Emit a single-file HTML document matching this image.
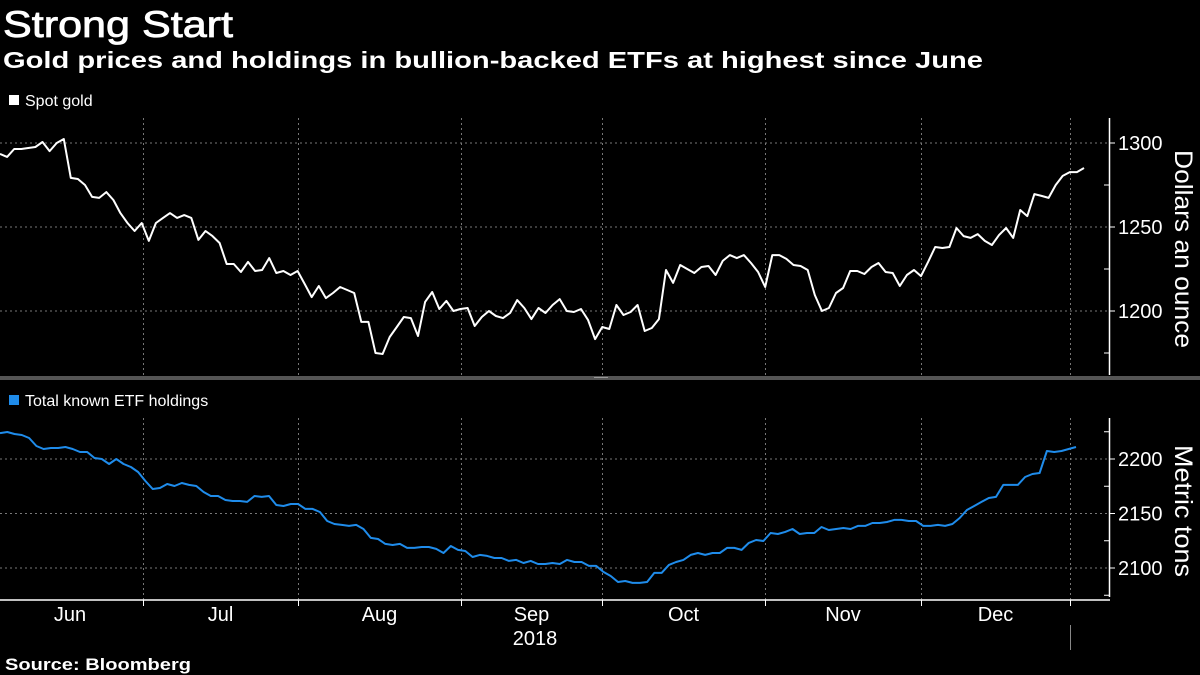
<!DOCTYPE html>
<html>
<head>
<meta charset="utf-8">
<style>
html,body{margin:0;padding:0;background:#000;}
svg{display:block;font-family:"Liberation Sans",sans-serif;}
</style>
</head>
<body>
<svg id="chart" width="1200" height="675" viewBox="0 0 1200 675">
  <rect x="0" y="0" width="1200" height="675" fill="#000"/>
  <text x="3" y="37" fill="#fff" stroke="#fff" stroke-width="0.8" font-size="37" textLength="230" lengthAdjust="spacingAndGlyphs">Strong Start</text>
  <text x="3" y="68" fill="#fff" font-size="23" font-weight="bold" textLength="980" lengthAdjust="spacingAndGlyphs">Gold prices and holdings in bullion-backed ETFs at highest since June</text>

  <rect x="9" y="95" width="10" height="10" fill="#fff"/>
  <text x="25" y="106" fill="#fff" font-size="16">Spot gold</text>
  <rect x="9" y="395" width="10" height="10" fill="#1f8ceb"/>
  <text x="25" y="406" fill="#fff" font-size="16">Total known ETF holdings</text>

  <rect x="0" y="376" width="1200" height="4" fill="#555"/>
  <rect x="594" y="377" width="14" height="1" fill="#999"/>

  <g id="grid"></g>
  <g id="axes"></g>
  <g id="series"></g>

  <text x="535" y="645" fill="#fff" font-size="20" text-anchor="middle">2018</text>
  <line x1="1070.5" y1="625" x2="1070.5" y2="650" stroke="#888" stroke-width="1"/>
  <text x="5" y="670" fill="#fff" font-size="17" font-weight="bold" textLength="186" lengthAdjust="spacingAndGlyphs">Source: Bloomberg</text>
  <text transform="translate(1175,249) rotate(90)" fill="#fff" font-size="25" text-anchor="middle" textLength="198" lengthAdjust="spacingAndGlyphs">Dollars an ounce</text>
  <text transform="translate(1175,511) rotate(90)" fill="#fff" font-size="25" text-anchor="middle" textLength="132" lengthAdjust="spacingAndGlyphs">Metric tons</text>
</svg>
<script>
const goldPrices = [1293.5,1291.7,1296.4,1296.4,1297,1297.6,1300.6,1295.2,1300,1302.4,1279.2,1278.6,1275,1267.9,1267.3,1270.8,1266.1,1258.3,1252.4,1247.6,1252.4,1241.7,1252.4,1255.4,1258.3,1255.4,1257.1,1255.4,1242.3,1247.6,1244.6,1240.5,1228,1228,1223.2,1229.2,1223.8,1224.4,1231.5,1222.6,1223.8,1221.4,1223.8,1216.1,1208.3,1214.9,1207.7,1210.7,1214.3,1212.5,1210.7,1193.5,1193.5,1175,1174.4,1184.5,1190.5,1196.4,1195.8,1185.1,1205.4,1211.3,1201.2,1206,1200,1201.2,1201.8,1191.1,1196.4,1200,1197,1195.8,1198.8,1206.5,1201.8,1195.2,1201.8,1198.8,1203.6,1207.1,1200,1199.4,1201.2,1194.6,1183.3,1190.5,1189.3,1203.6,1197.6,1199.4,1203.6,1188.1,1189.9,1195.2,1224.4,1216.7,1227.4,1225,1222.6,1226.2,1226.8,1221.4,1229.8,1233.3,1231.5,1233.3,1228.6,1223.2,1214.3,1233.3,1233.3,1231,1227.4,1226.8,1224.4,1209.5,1200,1201.8,1210.7,1213.7,1223.8,1223.8,1222,1226.2,1228.6,1223.2,1222.6,1214.9,1221.4,1224.4,1220.8,1229.2,1238.1,1237.5,1238.1,1249.4,1244.6,1243.5,1245.8,1241.7,1239.3,1245.2,1249.4,1243.5,1260.1,1256.5,1269.6,1268.5,1267.3,1275,1280.4,1282.7,1282.7,1285.1];
const etfHoldings = [2223.8,2224.8,2222.9,2222,2219.3,2211.9,2209.2,2210.1,2210.1,2211,2209.2,2206.4,2206.4,2200.9,2200,2195.4,2200,2195.4,2192.7,2188.1,2179.8,2172.5,2173.4,2177.1,2175.2,2178,2176.2,2175.2,2169.7,2166.1,2166.1,2162.4,2161.5,2161.5,2160.6,2166.1,2165.2,2166.1,2157.8,2156.9,2158.7,2158.7,2154.2,2154.2,2151.4,2143.1,2140.4,2139.5,2138.6,2139.5,2135.8,2127.6,2126.6,2122.1,2121.1,2122.1,2118.4,2118.4,2119.3,2119.3,2117.5,2113.8,2120.2,2116.6,2115.6,2110.1,2112,2111.1,2109.2,2109.2,2106.5,2107.4,2104.6,2106.5,2103.7,2103.7,2104.6,2103.7,2107.4,2105.5,2105.5,2101.9,2101.9,2096.4,2092.7,2087.2,2088.1,2086.3,2086.3,2087.2,2095.5,2095.5,2102.8,2105.5,2107.4,2112,2113.8,2112,2113.8,2113.8,2118.4,2118.4,2116.6,2123,2125.7,2124.8,2132.1,2131.2,2133.1,2135.8,2131.2,2132.1,2132.1,2137.6,2134.9,2135.8,2136.7,2135.8,2138.6,2138.6,2141.3,2141.3,2142.2,2144.1,2144.1,2143.1,2143.1,2138.6,2138.6,2139.5,2138.6,2140.4,2145.9,2153.2,2156.9,2160.6,2164.2,2165.2,2176.2,2176.2,2176.2,2183.5,2186.2,2187.2,2207.3,2206.4,2207.3,2209.2,2211];
const monthLabels = ["Jun","Jul","Aug","Sep","Oct","Nov","Dec"];
const goldTicks = [1200,1250,1300];
const goldMinorTicks = [1175,1225,1275];
const etfTicks = [2100,2150,2200];
const etfMinorTicks = [2075,2125,2175,2225];

const NS = "http://www.w3.org/2000/svg";
const AXIS_X = 1109;
const boundaries = [0,143,298,461,602,765,921,1070];
function goldY(v){ return 143 + (1300 - v) * 84 / 50; }
function etfY(v){ return 459 + (2200 - v) * 54.5 / 50; }
function goldX(i){ return i * 1084 / (goldPrices.length - 1); }
function etfX(i){ return i * 1076 / (etfHoldings.length - 1); }
function mk(tag, attrs, parent){
  const e = document.createElementNS(NS, tag);
  for (const k in attrs) e.setAttribute(k, attrs[k]);
  parent.appendChild(e);
  return e;
}
const grid = document.getElementById('grid');
const axes = document.getElementById('axes');
const series = document.getElementById('series');

for (let b = 1; b < boundaries.length; b++) {
  const x = boundaries[b] + 0.5;
  const g1 = mk('line', {x1:x, y1:118, x2:x, y2:375, stroke:'#777', 'stroke-width':1, 'stroke-dasharray':'2,3'}, grid);
  
  
  const g2 = mk('line', {x1:x, y1:418, x2:x, y2:600, stroke:'#777', 'stroke-width':1, 'stroke-dasharray':'2,3'}, grid);
  
  
  const t = mk('line', {x1:x, y1:600, x2:x, y2:606, stroke:'#fff', 'stroke-width':1}, axes);
  
  
}
monthLabels.forEach(function(m, i){
  const cx = (boundaries[i] + boundaries[i+1]) / 2;
  const x = i === 0 ? 70 : cx;
  const t = mk('text', {x:x, y:621, fill:'#fff', 'font-size':20, 'text-anchor':'middle'}, axes);
  t.textContent = m;
  
  
});
const topAxis = mk('line', {x1:AXIS_X+0.5, y1:118, x2:AXIS_X+0.5, y2:375, stroke:'#fff', 'stroke-width':1.5}, axes);


goldTicks.forEach(function(v){
  const y = goldY(v);
  const gl = mk('line', {x1:0, y1:y, x2:AXIS_X, y2:y, stroke:'#777', 'stroke-width':1, 'stroke-dasharray':'2,3'}, grid);
  
  
  const tk = mk('line', {x1:AXIS_X, y1:y, x2:AXIS_X+6, y2:y, stroke:'#fff', 'stroke-width':1}, axes);
  
  
  const t = mk('text', {x:AXIS_X+9, y:y+7, fill:'#fff', 'font-size':20}, axes);
  t.textContent = v;
  
  
});
goldMinorTicks.forEach(function(v){
  const y = goldY(v);
  const tk = mk('line', {x1:AXIS_X-5, y1:y, x2:AXIS_X, y2:y, stroke:'#fff', 'stroke-width':1}, axes);
  
  
});
const botAxis = mk('line', {x1:AXIS_X+0.5, y1:418, x2:AXIS_X+0.5, y2:597, stroke:'#fff', 'stroke-width':1.5}, axes);


const xAxis = mk('line', {x1:0, y1:600, x2:AXIS_X+1, y2:600, stroke:'#fff', 'stroke-width':1.5}, axes);


etfTicks.forEach(function(v){
  const y = etfY(v);
  const gl = mk('line', {x1:0, y1:y, x2:AXIS_X, y2:y, stroke:'#777', 'stroke-width':1, 'stroke-dasharray':'2,3'}, grid);
  
  
  const tk = mk('line', {x1:AXIS_X, y1:y, x2:AXIS_X+6, y2:y, stroke:'#fff', 'stroke-width':1}, axes);
  
  
  const t = mk('text', {x:AXIS_X+9, y:y+7, fill:'#fff', 'font-size':20}, axes);
  t.textContent = v;
  
  
});
etfMinorTicks.forEach(function(v){
  const y = etfY(v);
  const tk = mk('line', {x1:AXIS_X-5, y1:y, x2:AXIS_X, y2:y, stroke:'#fff', 'stroke-width':1}, axes);
  
  
});
const gp = goldPrices.map(function(v,i){ return goldX(i).toFixed(1) + ',' + goldY(v).toFixed(1); }).join(' ');
const goldLine = mk('polyline', {points:gp, fill:'none', stroke:'#fff', 'stroke-width':2, 'stroke-linejoin':'round'}, series);


const ep = etfHoldings.map(function(v,i){ return etfX(i).toFixed(1) + ',' + etfY(v).toFixed(1); }).join(' ');
const etfLine = mk('polyline', {points:ep, fill:'none', stroke:'#1f8ceb', 'stroke-width':2, 'stroke-linejoin':'round'}, series);


</script>
</body>
</html>
